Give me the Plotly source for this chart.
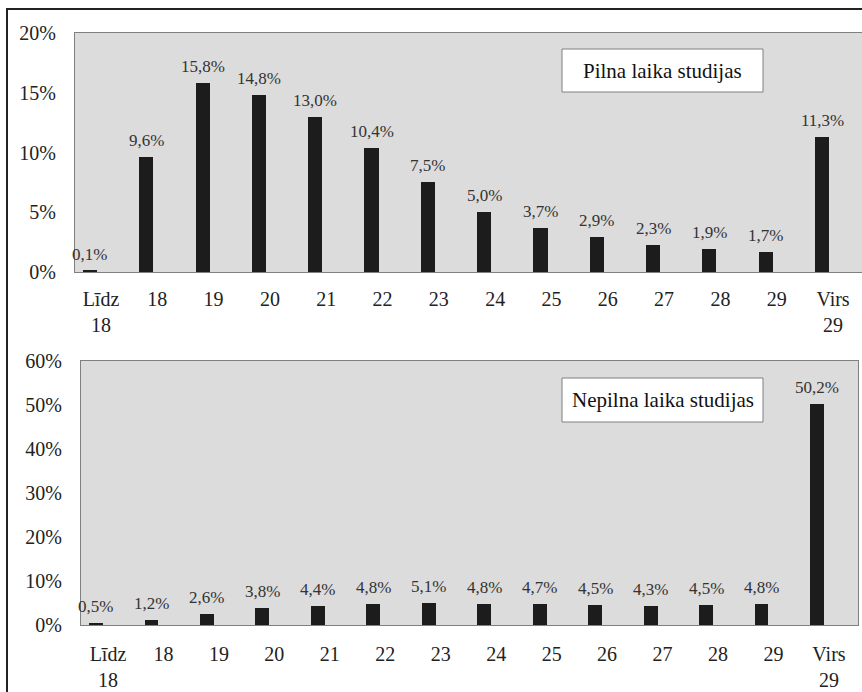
import plotly.graph_objects as go

# Age groups of students (shared by both panels)
categories = ["Līdz<br>18", "18", "19", "20", "21", "22", "23", "24",
              "25", "26", "27", "28", "29", "Virs<br>29"]

# Share of students by age, %
full_time = [0.1, 9.6, 15.8, 14.8, 13.0, 10.4, 7.5, 5.0, 3.7, 2.9, 2.3, 1.9, 1.7, 11.3]
part_time = [0.5, 1.2, 2.6, 3.8, 4.4, 4.8, 5.1, 4.8, 4.7, 4.5, 4.3, 4.5, 4.8, 50.2]

panel_titles = ["Pilna laika studijas", "Nepilna laika studijas"]

top_ticks = [0, 5, 10, 15, 20]
bottom_ticks = [0, 10, 20, 30, 40, 50, 60]

W, H = 862, 692
FONT = "Liberation Serif, Times New Roman, serif"
BAR = "#1c1c1c"
EDGE = "#808080"


def px(x):
    return x / W


def py(y):
    return 1 - y / H


def fmt(v):
    return f"{v:.1f}".replace(".", ",") + "%"


idx = list(range(len(categories)))

fig = go.Figure()
fig.add_trace(go.Bar(x=idx, y=full_time, marker=dict(color=BAR, line=dict(width=0)),
                     width=0.25, xaxis="x", yaxis="y", hoverinfo="skip"))
fig.add_trace(go.Bar(x=idx, y=part_time, marker=dict(color=BAR, line=dict(width=0)),
                     width=0.25, xaxis="x2", yaxis="y2", hoverinfo="skip"))

annotations = []
for xr, yr, vals in (("x", "y", full_time), ("x2", "y2", part_time)):
    for i, v in zip(idx, vals):
        annotations.append(dict(x=i, y=v, xref=xr, yref=yr, text=fmt(v),
                                showarrow=False, yanchor="bottom", yshift=5,
                                font=dict(family=FONT, size=17, color="#333333")))

# Panel captions in white boxes
shapes = []
for (y0, y1), title in zip(((49, 92), (378, 422)), panel_titles):
    shapes.append(dict(type="rect", xref="paper", yref="paper",
                       x0=px(562), x1=px(763), y0=py(y1), y1=py(y0),
                       fillcolor="white", line=dict(color=EDGE, width=1)))
    annotations.append(dict(x=px((562 + 763) / 2), y=py((y0 + y1) / 2),
                            xref="paper", yref="paper", text=title,
                            showarrow=False, xanchor="center", yanchor="middle",
                            font=dict(family=FONT, size=21, color="#111111")))

# Outer frame (top and left edges)
shapes.append(dict(type="path", xref="paper", yref="paper",
                   path=f"M {px(7)},{py(700)} L {px(7)},{py(9)} L {px(870)},{py(9)}",
                   line=dict(color="#222222", width=2)))

tick_font = dict(family=FONT, size=20, color="#222222")

fig.update_layout(
    template="none",
    width=W, height=H,
    margin=dict(l=0, r=0, t=0, b=0, autoexpand=False),
    paper_bgcolor="white",
    plot_bgcolor="#dcdcdc",
    font=dict(family=FONT),
    showlegend=False,
    bargap=0,
    shapes=shapes,
    annotations=annotations,
    xaxis=dict(domain=[px(75), 1], range=[-0.266, 13.71], automargin=False,
               tickvals=idx, ticktext=categories, ticks="", showgrid=False,
               showline=True, linecolor=EDGE, linewidth=1, mirror=True,
               tickfont=tick_font, ticklabelshift=11, ticklabelstandoff=9,
               anchor="y", fixedrange=True),
    yaxis=dict(domain=[py(272), py(33)], range=[0, 20], automargin=False,
               tickvals=top_ticks, ticktext=[f"{t}%" for t in top_ticks],
               ticks="", showgrid=False, zeroline=False,
               showline=True, linecolor=EDGE, linewidth=1,
               tickfont=tick_font, ticklabelstandoff=14, anchor="x"),
    xaxis2=dict(domain=[px(81), px(858)], range=[-0.27, 13.74], automargin=False,
                tickvals=idx, ticktext=categories, ticks="", showgrid=False,
                showline=True, linecolor=EDGE, linewidth=1, mirror=True,
                tickfont=tick_font, ticklabelshift=12, ticklabelstandoff=11,
                anchor="y2"),
    yaxis2=dict(domain=[py(625), py(361)], range=[0, 60], automargin=False,
                tickvals=bottom_ticks, ticktext=[f"{t}%" for t in bottom_ticks],
                ticks="", showgrid=False, zeroline=False,
                showline=True, linecolor=EDGE, linewidth=1, mirror=True,
                tickfont=tick_font, ticklabelstandoff=14, anchor="x2"),
)

fig.write_html("out.html")
